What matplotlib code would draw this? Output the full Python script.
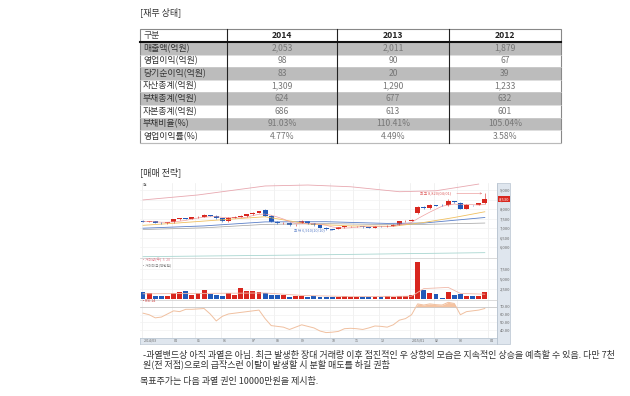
import matplotlib
matplotlib.use('Agg')
import matplotlib.pyplot as plt
from matplotlib.patches import Rectangle
import numpy as np
import pandas as pd

plt.rcParams['font.family'] = ['Noto Sans CJK KR', 'DejaVu Sans']

# ---- financial table
years = ['2014', '2013', '2012']
row_names = ['매출액(억원)', '영업이익(억원)', '당기순이익(억원)', '자산총계(억원)',
             '부채총계(억원)', '자본총계(억원)', '부채비율(%)', '영업이익률(%)']
val_2014 = ['2,053', '98', '83', '1,309', '624', '686', '91.03%', '4.77%']
val_2013 = ['2,011', '90', '20', '1,290', '677', '613', '110.41%', '4.49%']
val_2012 = ['1,879', '67', '39', '1,233', '632', '601', '105.04%', '3.58%']

# ---- weekly chart (price in won, volume in thousand shares)
opens = [7400, 7350, 7360, 7290, 7250, 7300, 7480, 7520, 7500, 7570,
         7600, 7680, 7650, 7520, 7380, 7560, 7600, 7640, 7720, 7800,
         7950, 7660, 7340, 7250, 7270, 7170, 7280, 7380, 7260, 7160,
         7030, 6950, 6960, 7040, 7090, 7100, 7110, 7060, 7020, 7110,
         7090, 7120, 7180, 7360, 7400, 7800, 8130, 8050, 8200, 8230,
         8200, 8400, 8320, 8020, 8200, 8220, 8300]
closes = [7350, 7360, 7290, 7250, 7300, 7480, 7520, 7500, 7570, 7600,
          7680, 7650, 7520, 7380, 7560, 7600, 7640, 7720, 7800, 7880,
          7660, 7340, 7250, 7270, 7170, 7190, 7380, 7260, 7160, 7030,
          6950, 6930, 7040, 7090, 7100, 7110, 7060, 7020, 7110, 7090,
          7120, 7180, 7360, 7400, 7430, 8130, 8050, 8200, 8180, 8200,
          8400, 8350, 8020, 8200, 8190, 8300, 8530]
highs = [7440, 7400, 7390, 7320, 7330, 7500, 7560, 7560, 7600, 7640,
         7720, 7700, 7680, 7540, 7590, 7630, 7680, 7760, 7830, 7920,
         7980, 7690, 7380, 7300, 7300, 7230, 7410, 7400, 7290, 7190,
         7060, 6980, 7070, 7120, 7130, 7140, 7130, 7080, 7140, 7130,
         7150, 7210, 7390, 7430, 7470, 8180, 8160, 8260, 8240, 8260,
         8550, 8420, 8350, 8250, 8240, 8330, 8820]
lows = [7320, 7310, 7250, 7220, 7230, 7280, 7450, 7470, 7480, 7540,
        7570, 7620, 7500, 7340, 7350, 7540, 7580, 7610, 7690, 7770,
        7640, 7310, 7220, 7220, 7140, 7140, 7250, 7230, 7130, 7000,
        6920, 6910, 6940, 7010, 7060, 7070, 7030, 6990, 7000, 7060,
        7070, 7100, 7150, 7340, 7380, 7720, 8000, 8020, 8150, 8170,
        8170, 8310, 7990, 7990, 8160, 8190, 8280]
volume = [1700, 1500, 800, 700, 800, 1500, 1750, 1900, 1000, 1500,
          2300, 1300, 1100, 700, 1500, 1100, 2750, 1900, 2100, 1700,
          1500, 1000, 900, 900, 500, 800, 700, 600, 700, 500,
          600, 500, 600, 700, 600, 500, 600, 600, 500, 600,
          700, 600, 700, 800, 900, 9300, 2300, 1500, 1250, 300,
          1800, 1100, 1200, 700, 700, 700, 1800]
rsi = [62, 60, 56, 57, 61, 65, 64, 67, 67, 67.5,
       68, 61, 52, 58, 61, 62, 63, 64, 65, 66,
       55, 46, 45, 44, 41, 44, 47, 45, 43, 39,
       37, 37.5, 38.5, 42, 42.5, 42, 41, 43, 45.5, 45,
       44, 47, 53, 55, 60, 74, 72.5, 74, 73, 72.5,
       76, 74.5, 60, 64, 65, 66, 68]

# moving-average / envelope lines read at a few weeks
upper_wk = [0, 9, 20, 27, 34, 42, 48, 55]
upper_val = [8480, 8740, 9210, 9260, 9170, 8910, 8960, 9310]
lower_wk = [0, 27, 56]
lower_val = [5510, 5600, 5720]
yellow_wk = [0, 6, 12, 20, 27, 34, 41, 46, 51, 56]
yellow_val = [7150, 7280, 7420, 7600, 7220, 7120, 7100, 7300, 7560, 7860]
blue_wk = [0, 10, 20, 30, 40, 46, 56]
blue_val = [7000, 7120, 7330, 7340, 7250, 7270, 7560]
gray_wk = [0, 10, 20, 30, 40, 46, 56]
gray_val = [6930, 7020, 7200, 7240, 7190, 7200, 7270]
volma_wk = [0, 10, 20, 26, 34, 44, 46, 50, 52, 56]
volma_val = [1300, 1400, 1500, 900, 600, 700, 2600, 2900, 1400, 1200]

month_pos = [-0.2, 4.7, 8.5, 12.7, 17.6, 21.5, 25.6, 30.6, 34.4, 38.6, 43.8, 47.6, 51.5, 56.5]
month_labels = ['2014/03', '04', '05', '06', '07', '08', '09', '10', '11', '12',
                '2015/01', '02', '03', '04']

RED = '#d8261e'
BLUE = '#2159b8'
W, H = 630, 396

fig = plt.figure(figsize=(6.3, 3.96), dpi=100)


def px_axes(x0, y0, x1, y1):
    return fig.add_axes([x0 / W, 1 - y1 / H, (x1 - x0) / W, (y1 - y0) / H])


doc = fig.add_axes([0, 0, 1, 1])
doc.set_xlim(0, W)
doc.set_ylim(H, 0)
doc.axis('off')

# ---- table
doc.text(140, 12, '[재무 상태]', fontsize=6.5, color='#333333', va='center')
col_x = [140, 227, 337, 449, 561]
top, head_h, row_h = 29, 13, 12.6
doc.text(143, top + head_h / 2, '구분', fontsize=6.4, color='#444444', va='center')
for j, yr in enumerate(years):
    doc.text((col_x[j + 1] + col_x[j + 2]) / 2, top + head_h / 2, yr, fontsize=6.2,
             fontweight='bold', color='#222222', ha='center', va='center')
for i, name in enumerate(row_names):
    y = top + head_h + i * row_h
    if i % 2 == 0:
        doc.add_patch(Rectangle((140, y), 421, row_h, fc='#bcbcbc', ec='none'))
    doc.plot([140, 561], [y + row_h, y + row_h], color='#d0d0d0', lw=0.5)
    doc.text(143, y + row_h / 2, name, fontsize=6.4, color='#333333', va='center')
    for j, vals in enumerate([val_2014, val_2013, val_2012]):
        doc.text((col_x[j + 1] + col_x[j + 2]) / 2, y + row_h / 2, vals[i], fontsize=6.2,
                 color='#777777', ha='center', va='center')
bottom = top + head_h + len(row_names) * row_h
for x in col_x[1:-1]:
    doc.plot([x, x], [top, bottom], color='#222222', lw=0.8)
doc.add_patch(Rectangle((140, top), 421, bottom - top, fc='none', ec='#888888', lw=0.8))
doc.plot([140, 561], [top + head_h, top + head_h], color='#111111', lw=1.5)

doc.text(140, 172, '[매매 전략]', fontsize=6.5, color='#333333', va='center')

# right label strip and bottom date strip
doc.add_patch(Rectangle((497, 183), 13, 161, fc='#dfe6ee', ec='#b8c4d0', lw=0.5))

x = np.arange(len(closes))
up = [c >= o for o, c in zip(opens, closes)]
colors = [RED if u else BLUE for u in up]
xlim = (-0.5, 58)


def style_panel(ax, ticks, labels):
    ax.set_xlim(*xlim)
    ax.set_facecolor('white')
    ax.yaxis.tick_right()
    ax.set_yticks(ticks)
    ax.set_yticklabels(labels)
    ax.tick_params(axis='y', length=0, labelsize=3, labelcolor='#666666', pad=2)
    ax.set_xticks([])
    for s in ['top', 'left', 'bottom']:
        ax.spines[s].set_visible(False)
    ax.spines['right'].set_color('#b8c4d0')
    ax.spines['right'].set_linewidth(0.5)
    for p in month_pos:
        ax.axvline(p, color='#ececec', lw=0.5, zorder=0)
    for t in ticks:
        ax.axhline(t, color='#f2f2f2', lw=0.5, zorder=0)


# ---- price panel
ax = px_axes(140, 183, 497, 258)
price_ticks = [6000, 6500, 7000, 7500, 8000, 8500, 9000]
style_panel(ax, price_ticks, ['{:,}'.format(t) for t in price_ticks])
ax.set_ylim(5440, 9366)
ax.plot(upper_wk, upper_val, color='#e8a8b0', lw=0.6)
ax.plot(lower_wk, lower_val, color='#a8d6d0', lw=0.6)
ax.plot(gray_wk, gray_val, color='#a0a0a0', lw=0.5)
ax.plot(blue_wk, blue_val, color='#5a7fc8', lw=0.6)
ax.plot(yellow_wk, yellow_val, color='#f0c060', lw=0.6)
ma5 = pd.Series(closes).rolling(5, min_periods=1).mean()
ax.plot(x, ma5, color='#f0a0a0', lw=0.5)
ax.vlines(x, lows, highs, color=colors, lw=0.4)
body_lo = [min(o, c) for o, c in zip(opens, closes)]
body_h = [abs(c - o) for o, c in zip(opens, closes)]
ax.bar(x, body_h, bottom=body_lo, width=0.8, color=colors, lw=0)
hi_i = int(np.argmax(highs))
lo_i = int(np.argmin(lows))
ax.annotate('최고 {:,}(04/01)'.format(highs[hi_i]), xy=(hi_i, highs[hi_i]), xytext=(hi_i - 5.5, highs[hi_i]),
            fontsize=2.8, color='#e06060', va='center', ha='right',
            arrowprops=dict(arrowstyle='->', color='#e06060', lw=0.3))
ax.annotate('최저 {:,}(10/10)'.format(lows[lo_i]), xy=(lo_i, lows[lo_i]), xytext=(lo_i - 1.2, lows[lo_i] - 40),
            fontsize=2.8, color='#5a7fc8', va='center', ha='right',
            arrowprops=dict(arrowstyle='->', color='#5a7fc8', lw=0.3))
ax.text(0, 9250, '원', fontsize=2.8, color='#666666', va='center')
ax.text(1.005, (closes[-1] - 5440) / (9366 - 5440), '{:,}'.format(closes[-1]), transform=ax.transAxes,
        fontsize=3, color='white', va='center', ha='left',
        bbox=dict(boxstyle='square,pad=0.25', fc=RED, ec='none'))

# ---- volume panel
av = px_axes(140, 258, 497, 300)
style_panel(av, [2500, 5000, 7500], ['2,500', '5,000', '7,500'])
av.set_ylim(-250, 10250)
av.spines['top'].set_visible(True)
av.spines['top'].set_color('#cccccc')
av.spines['top'].set_linewidth(0.5)
av.bar(x, volume, width=0.8, color=colors, lw=0)
av.plot(volma_wk, volma_val, color='#f0b8a8', lw=0.6)
av.text(0, 9700, '• 거래량(주)  5  20', fontsize=2.6, color='#e08090', va='center')
av.text(0, 8500, '• 거래대금(백만원)', fontsize=2.6, color='#888888', va='center')

# ---- RSI panel
ar = px_axes(140, 300, 497, 338)
style_panel(ar, [40, 50, 60, 70], ['40.00', '50.00', '60.00', '70.00'])
ar.set_ylim(30, 79)
ar.spines['top'].set_visible(True)
ar.spines['top'].set_color('#cccccc')
ar.spines['top'].set_linewidth(0.5)
ar.axhline(70, color='#c0c0c0', lw=0.5)
rsi_a = np.array(rsi)
ar.fill_between(x, rsi_a, 70, where=rsi_a > 70, interpolate=True, color='#f6c4a2', lw=0)
ar.plot(x, rsi_a, color='#f0c0a0', lw=0.7)
ar.text(0, 77.5, '• RSI 14', fontsize=2.6, color='#d04040', va='center')

# ---- date strip
ad = px_axes(140, 338, 497, 344)
ad.set_xlim(*xlim)
ad.set_ylim(0, 1)
ad.set_facecolor('#dfe6ee')
ad.set_xticks([])
ad.set_yticks([])
for s in ad.spines.values():
    s.set_color('#b8c4d0')
    s.set_linewidth(0.5)
for p, lab in zip(month_pos, month_labels):
    ad.text(p + 0.3, 0.5, lab, fontsize=2.6, color='#666666', va='center')

# ---- comment text
doc.text(143, 355.5, '-과열밴드상 아직 과열은 아님. 최근 발생한 장대 거래량 이후 점진적인 우 상향의 모습은 '
                     '지속적인 상승을 예측할 수 있음. 다만 7천', fontsize=6.5, color='#333333', va='center')
doc.text(143, 364, '원(전 저점)으로의 급작스런 이탈이 발생할 시 분할 매도를 하길 권함',
         fontsize=6.5, color='#333333', va='center')
doc.text(140, 381, '목표주가는 다음 과열 권인 10000만원을 제시함.', fontsize=6.5, color='#333333', va='center')

fig.savefig('out.png', dpi=100)
